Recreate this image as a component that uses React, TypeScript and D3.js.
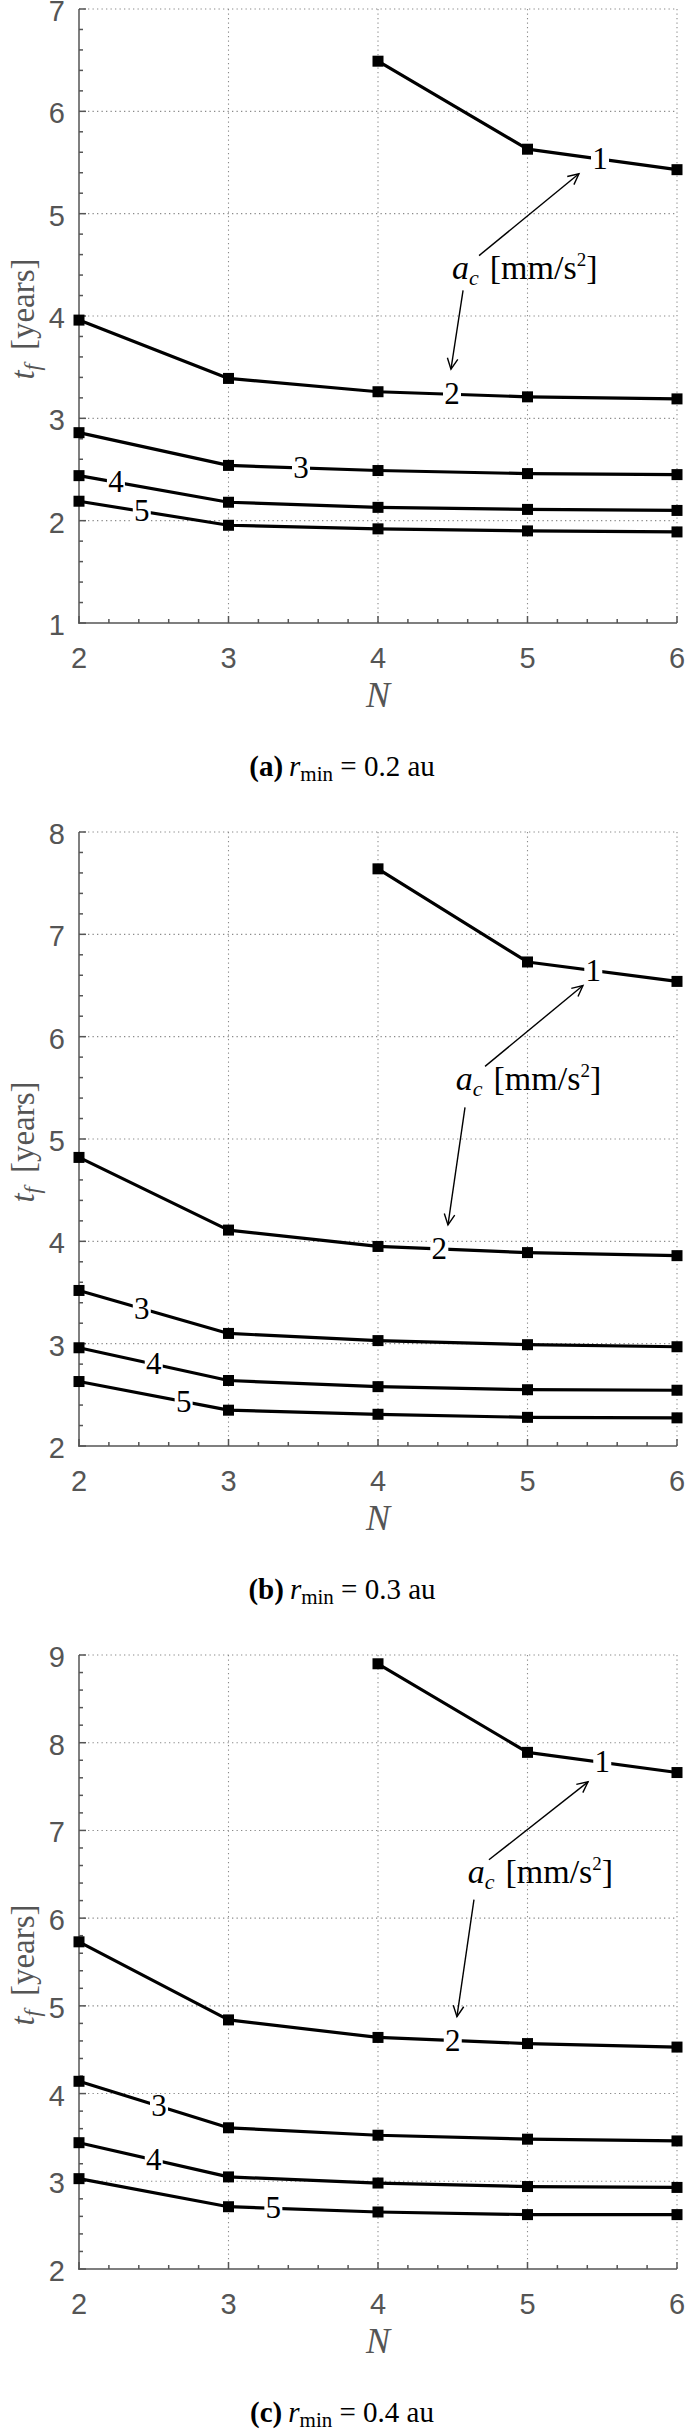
import React from "react";
import * as d3 from "d3";

// ---------- data ----------
const N_VALUES = [2, 3, 4, 5, 6];
const X_TICKS = [2, 3, 4, 5, 6];
const AC_LABELS = ["1", "2", "3", "4", "5"];

// panel (a) r_min = 0.2 au
const A_AC1 = [null, null, 6.49, 5.63, 5.43];
const A_AC2 = [3.96, 3.39, 3.26, 3.21, 3.19];
const A_AC3 = [2.86, 2.54, 2.49, 2.46, 2.45];
const A_AC4 = [2.44, 2.18, 2.13, 2.11, 2.1];
const A_AC5 = [2.19, 1.955, 1.92, 1.9, 1.89];
const A_Y_TICKS = [1, 2, 3, 4, 5, 6, 7];

// panel (b) r_min = 0.3 au
const B_AC1 = [null, null, 7.64, 6.73, 6.54];
const B_AC2 = [4.82, 4.11, 3.95, 3.89, 3.86];
const B_AC3 = [3.52, 3.1, 3.03, 2.99, 2.97];
const B_AC4 = [2.96, 2.64, 2.58, 2.55, 2.545];
const B_AC5 = [2.63, 2.35, 2.31, 2.28, 2.275];
const B_Y_TICKS = [2, 3, 4, 5, 6, 7, 8];

// panel (c) r_min = 0.4 au
const C_AC1 = [null, null, 8.9, 7.89, 7.66];
const C_AC2 = [5.73, 4.84, 4.64, 4.57, 4.53];
const C_AC3 = [4.14, 3.61, 3.525, 3.48, 3.46];
const C_AC4 = [3.44, 3.05, 2.98, 2.94, 2.93];
const C_AC5 = [3.03, 2.71, 2.65, 2.62, 2.62];
const C_Y_TICKS = [2, 3, 4, 5, 6, 7, 8, 9];

const CAPTION_LETTERS = ["a", "b", "c"];
const RMIN_VALUES = ["0.2", "0.3", "0.4"];

// ---------- layout (positions in data coordinates) ----------
const LAYOUT = [
  {
    top: 9,
    yDomain: [1, 7],
    labelX: [5.485, 4.495, 3.485, 2.247, 2.42],
    annText: [4.495, 4.366],
    arrow1: [[4.676, 4.59], [5.344, 5.39]],
    arrow2: [[4.569, 4.25], [4.488, 3.48]],
  },
  {
    top: 832,
    yDomain: [2, 8],
    labelX: [5.44, 4.41, 2.42, 2.5, 2.7],
    annText: [4.52, 5.48],
    arrow1: [[4.716, 5.71], [5.371, 6.5]],
    arrow2: [[4.582, 5.31], [4.468, 4.16]],
  },
  {
    top: 1655,
    yDomain: [2, 9],
    labelX: [5.5, 4.5, 2.535, 2.5, 3.3],
    annText: [4.6, 6.4],
    arrow1: [[4.742, 6.665], [5.405, 7.554]],
    arrow2: [[4.642, 6.21], [4.528, 4.877]],
  },
];

const SERIES = [
  [A_AC1, A_AC2, A_AC3, A_AC4, A_AC5],
  [B_AC1, B_AC2, B_AC3, B_AC4, B_AC5],
  [C_AC1, C_AC2, C_AC3, C_AC4, C_AC5],
];
const Y_TICKS = [A_Y_TICKS, B_Y_TICKS, C_Y_TICKS];

const W = 685;
const H = 2433;
const LEFT = 79;
const RIGHT = 677;
const PLOT_H = 614;
const AXIS_COLOR = "#555555";
const GRID_COLOR = "#8a8a8a";
const TICK_FONT = "'Liberation Sans', Arial, Helvetica, sans-serif";
const SERIF = "'Liberation Serif', 'DejaVu Serif', 'Times New Roman', serif";

function interp(xs: number[], ys: (number | null)[], x: number): number {
  for (let i = 0; i < xs.length - 1; i++) {
    if (x >= xs[i] && x <= xs[i + 1] && ys[i] != null && ys[i + 1] != null) {
      const t = (x - xs[i]) / (xs[i + 1] - xs[i]);
      return (ys[i] as number) + t * ((ys[i + 1] as number) - (ys[i] as number));
    }
  }
  return 0;
}

function Arrow({ x1, y1, x2, y2 }: { x1: number; y1: number; x2: number; y2: number }) {
  const ang = Math.atan2(y2 - y1, x2 - x1);
  const len = 12;
  const spread = (26 * Math.PI) / 180;
  const ax = x2 - len * Math.cos(ang - spread);
  const ay = y2 - len * Math.sin(ang - spread);
  const bx = x2 - len * Math.cos(ang + spread);
  const by = y2 - len * Math.sin(ang + spread);
  return (
    <g stroke="#000" strokeWidth={1.4} fill="none">
      <line x1={x1} y1={y1} x2={x2} y2={y2} />
      <polyline points={`${ax},${ay} ${x2},${y2} ${bx},${by}`} />
    </g>
  );
}

function Panel({ idx }: { idx: number }) {
  const L = LAYOUT[idx];
  const top = L.top;
  const bottom = top + PLOT_H;
  const x = d3.scaleLinear().domain([2, 6]).range([LEFT, RIGHT]);
  const y = d3.scaleLinear().domain(L.yDomain).range([bottom, top]);
  const yTicks = Y_TICKS[idx];
  const series = SERIES[idx];

  const xMinor = d3.range(2, 6.001, 0.2).filter((v) => Math.abs(v - Math.round(v)) > 1e-6);
  const yMinor = d3
    .range(L.yDomain[0], L.yDomain[1] + 0.001, 0.2)
    .filter((v) => Math.abs(v - Math.round(v)) > 1e-6);

  const line = d3
    .line<[number, number | null]>()
    .defined((d) => d[1] != null)
    .x((d) => x(d[0]))
    .y((d) => y(d[1] as number));

  return (
    <g>
      {/* grid */}
      <g stroke={GRID_COLOR} strokeWidth={1.1} strokeDasharray="1.3 3.2">
        {X_TICKS.slice(1).map((t) => (
          <line key={"gx" + t} x1={x(t)} x2={x(t)} y1={top} y2={bottom} />
        ))}
        {yTicks.slice(1).map((t) => (
          <line key={"gy" + t} x1={LEFT} x2={RIGHT} y1={y(t)} y2={y(t)} />
        ))}
      </g>
      {/* axes */}
      <g stroke={AXIS_COLOR} strokeWidth={1.5}>
        <line x1={LEFT} x2={LEFT} y1={top} y2={bottom + 0.75} />
        <line x1={LEFT - 0.75} x2={RIGHT} y1={bottom} y2={bottom} />
        {xMinor.map((t) => (
          <line key={"xm" + t} x1={x(t)} x2={x(t)} y1={bottom} y2={bottom - 4} />
        ))}
        {X_TICKS.map((t) => (
          <line key={"xM" + t} x1={x(t)} x2={x(t)} y1={bottom} y2={bottom - 7} />
        ))}
        {yMinor.map((t) => (
          <line key={"ym" + t} x1={LEFT} x2={LEFT + 4} y1={y(t)} y2={y(t)} />
        ))}
        {yTicks.map((t) => (
          <line key={"yM" + t} x1={LEFT} x2={LEFT + 7} y1={y(t)} y2={y(t)} />
        ))}
      </g>
      {/* tick labels */}
      <g fill={AXIS_COLOR} fontFamily={TICK_FONT} fontSize={29}>
        {yTicks.map((t) => (
          <text key={"yl" + t} x={LEFT - 14} y={y(t) + 12} textAnchor="end">
            {t}
          </text>
        ))}
        {X_TICKS.map((t) => (
          <text key={"xl" + t} x={x(t)} y={bottom + 45} textAnchor="middle">
            {t}
          </text>
        ))}
      </g>
      {/* axis labels */}
      <text
        x={x(4)}
        y={top + 698}
        textAnchor="middle"
        fontFamily={SERIF}
        fontStyle="italic"
        fontSize={36}
        fill={AXIS_COLOR}
      >
        N
      </text>
      <text
        transform={`translate(34, ${top + 310}) rotate(-90)`}
        textAnchor="middle"
        fontFamily={SERIF}
        fontSize={33}
        fill={AXIS_COLOR}
      >
        <tspan fontStyle="italic">t</tspan>
        <tspan fontStyle="italic" fontSize={23} dy={6}>
          f
        </tspan>
        <tspan dy={-6} dx={14}>
          [years]
        </tspan>
      </text>
      {/* series */}
      {series.map((vals, si) => {
        const pts: [number, number | null][] = N_VALUES.map((n, i) => [n, vals[i]]);
        return (
          <g key={"s" + si}>
            <path d={line(pts) || ""} fill="none" stroke="#000" strokeWidth={3.2} strokeLinejoin="round" />
            {pts
              .filter((p) => p[1] != null)
              .map((p) => (
                <rect
                  key={"m" + p[0]}
                  x={x(p[0]) - 5.5}
                  y={y(p[1] as number) - 5.5}
                  width={11}
                  height={11}
                  fill="#000"
                />
              ))}
          </g>
        );
      })}
      {/* inline labels */}
      {series.map((vals, si) => {
        const lx = L.labelX[si];
        const ly = interp(N_VALUES, vals, lx);
        const px = x(lx);
        const py = y(ly);
        return (
          <g key={"lab" + si}>
            <rect x={px - 9} y={py - 12} width={18} height={24} fill="#fff" />
            <text
              x={px}
              y={py + 10}
              textAnchor="middle"
              fontFamily={SERIF}
              fontSize={31}
              fill="#000"
            >
              {AC_LABELS[si]}
            </text>
          </g>
        );
      })}
      {/* annotation */}
      <text x={x(L.annText[0])} y={y(L.annText[1])} fontFamily={SERIF} fontSize={34} fill="#000">
        <tspan fontStyle="italic">a</tspan>
        <tspan fontStyle="italic" fontSize={22} dy={6}>
          c
        </tspan>
        <tspan dy={-6} dx={11}>
          [mm/s
        </tspan>
        <tspan fontSize={19} dy={-13}>
          2
        </tspan>
        <tspan dy={13}>]</tspan>
      </text>
      <Arrow x1={x(L.arrow1[0][0])} y1={y(L.arrow1[0][1])} x2={x(L.arrow1[1][0])} y2={y(L.arrow1[1][1])} />
      <Arrow x1={x(L.arrow2[0][0])} y1={y(L.arrow2[0][1])} x2={x(L.arrow2[1][0])} y2={y(L.arrow2[1][1])} />
      {/* caption */}
      <text x={342} y={top + 767} textAnchor="middle" fontFamily={SERIF} fontSize={29} fill="#000">
        <tspan fontWeight="bold">({CAPTION_LETTERS[idx]})</tspan>
        <tspan dx={6} fontStyle="italic">
          r
        </tspan>
        <tspan fontSize={21} dy={5}>
          min
        </tspan>
        <tspan dy={-5}>{` = ${RMIN_VALUES[idx]} au`}</tspan>
      </text>
    </g>
  );
}

export default function App() {
  return (
    <svg
      width={W}
      height={H}
      viewBox={`0 0 ${W} ${H}`}
      style={{ position: "absolute", left: 0, top: 0, background: "#fff" }}
    >
      <rect x={0} y={0} width={W} height={H} fill="#fff" />
      {LAYOUT.map((_, i) => (
        <Panel key={i} idx={i} />
      ))}
    </svg>
  );
}
